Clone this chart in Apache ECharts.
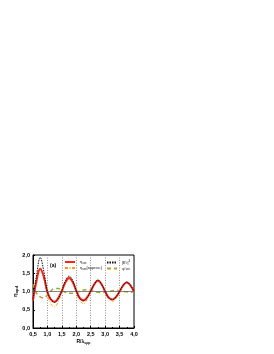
<!DOCTYPE html>
<html>
<head>
<meta charset="utf-8">
<script src="https://cdn.jsdelivr.net/npm/echarts@6/dist/echarts.min.js"></script>
<style>html,body{margin:0;padding:0;background:#fff}#c{width:274px;height:354px}</style>
</head>
<body>
<div id="c"></div>
<script>
var xs = [0.5,0.625,0.75,0.875,1.0,1.125,1.25,1.375,1.5,1.625,1.75,1.875,2.0,2.125,2.25,2.375,2.5,2.625,2.75,2.875,3.0,3.125,3.25,3.375,3.5,3.625,3.75,3.875,4.0];
var etaSm = [0.75,1.3,1.62,1.4,0.98,0.78,0.72,0.82,1.02,1.25,1.37,1.26,1.02,0.82,0.76,0.84,1.01,1.2,1.3,1.2,1.0,0.83,0.78,0.85,1.0,1.17,1.25,1.17,1.0];
var etaApprox = [0.9,1.35,1.6,1.35,0.92,0.65,0.58,0.72,0.98,1.22,1.35,1.22,0.97,0.74,0.67,0.78,0.99,1.18,1.28,1.18,0.98,0.79,0.73,0.82,0.99,1.16,1.24,1.16,0.99];
var eField = [0.8,1.45,1.93,1.55,1.0,0.78,0.7,0.8,1.02,1.3,1.42,1.3,1.02,0.8,0.74,0.83,1.01,1.2,1.31,1.2,1.0,0.83,0.77,0.85,1.0,1.17,1.26,1.17,1.0];
var phiSm = [1.2,0.95,0.85,0.82,0.9,1.02,1.08,1.08,1.03,0.98,0.95,0.95,0.97,1.01,1.04,1.05,1.03,1.0,0.98,0.97,0.98,1.0,1.02,1.03,1.02,1.0,0.99,0.98,0.99];
var yTicks = ['0,0','0,5','1,0','1,5','2,0'];
var xTicks = ['0,5','1,0','1,5','2,0','2,5','3,0','3,5','4,0'];

function zip(a){ return xs.map(function(x,i){ return [x,a[i]]; }); }
var names = {
  'eta_sm': '{m|η}{s|sm}',
  'eta_ap': '{m|η}{s|sm}{m|(approx.)}',
  'E': "{m||E'}{s|r}{m||}{p|2}",
  'phi': "{m|φ'}{s|sm}"
};
var rich = {
  m:{fontSize:3.6,fontWeight:'bold',fontFamily:'Arial'},
  s:{fontSize:3,fontWeight:'bold',fontFamily:'Arial',padding:[2,0,0,0]},
  p:{fontSize:3,fontWeight:'bold',fontFamily:'Arial',padding:[0,0,2,0]}
};
var chart = echarts.init(document.getElementById('c'));
chart.setOption({
  animation:false,
  grid:{left:33,right:140,top:255,bottom:26,show:true,borderColor:'#000',borderWidth:1,backgroundColor:'transparent'},
  legend:[
    {data:['eta_sm','eta_ap'],orient:'vertical',left:64,top:260,itemWidth:10,itemHeight:5,itemGap:1.5,padding:0,
     itemStyle:{opacity:0},
     formatter:function(n){return names[n];},textStyle:{rich:rich,fontSize:3.6}},
    {data:['E','phi'],orient:'vertical',left:106,top:260,itemWidth:10,itemHeight:5,itemGap:1.5,padding:0,
     itemStyle:{opacity:0},
     formatter:function(n){return names[n];},textStyle:{rich:rich,fontSize:3.6}}
  ],
  graphic:[{type:'text',left:50,top:263,style:{text:'(a)',font:'bold 5px Arial',fill:'#000'}}],
  xAxis:{type:'value',min:0.5,max:4.0,interval:0.5,
    name:'{m|R/λ}{s|spp}',nameLocation:'middle',nameGap:10,
    nameTextStyle:{rich:{m:{fontSize:5,fontWeight:'bold',fontFamily:'Arial'},s:{fontSize:3.5,fontWeight:'bold',fontFamily:'Arial',padding:[3,0,0,0]}}},
    axisLine:{lineStyle:{color:'#000',width:1}},
    axisTick:{inside:true,length:2,lineStyle:{color:'#000'}},
    minorTick:{show:true,splitNumber:2,length:1,lineStyle:{color:'#000'}},
    axisLabel:{fontSize:5.5,fontWeight:'bold',fontFamily:'Arial',color:'#000',margin:3,
      formatter:function(v){var i=Math.round((v-0.5)/0.5);return xTicks[i];}},
    splitLine:{show:true,lineStyle:{color:'#777',type:[1,1.5],width:0.8}}},
  yAxis:{type:'value',min:0,max:2,interval:0.5,
    name:'{m|η}{s|opd}',nameLocation:'middle',nameGap:14,nameRotate:90,
    nameTextStyle:{rich:{m:{fontSize:6,fontWeight:'bold',fontFamily:'Arial'},s:{fontSize:4,fontWeight:'bold',fontFamily:'Arial',padding:[3,0,0,0]}}},
    axisLine:{lineStyle:{color:'#000',width:1}},
    axisTick:{inside:true,length:2,lineStyle:{color:'#000'}},
    minorTick:{show:true,splitNumber:2,length:1,lineStyle:{color:'#000'}},
    axisLabel:{fontSize:5.5,fontWeight:'bold',fontFamily:'Arial',color:'#000',margin:3,
      formatter:function(v){return yTicks[Math.round(v/0.5)];}},
    splitLine:{show:false}},
  series:[
    {name:'phi',type:'line',data:zip(phiSm),smooth:0.4,symbol:'none',z:2,
     lineStyle:{color:'#a5a534',width:1.5,type:[4,3]},itemStyle:{color:'#a5a534'},
     markLine:{silent:true,symbol:'none',label:{show:false},lineStyle:{color:'#666',type:'solid',width:0.8},data:[{yAxis:1}]}},
    {name:'eta_ap',type:'line',data:zip(etaApprox),smooth:0.4,symbol:'none',z:3,
     lineStyle:{color:'#ff9a1a',width:1,type:[3,1.5,1,1.5]},itemStyle:{color:'#ff9a1a'}},
    {name:'eta_sm',type:'line',data:zip(etaSm),smooth:0.4,symbol:'none',z:4,
     lineStyle:{color:'#ff2418',width:2},itemStyle:{color:'#ff2418'}},
    {name:'E',type:'line',data:zip(eField),smooth:0.4,symbol:'none',z:5,
     lineStyle:{color:'#111',width:1,type:[1.5,1]},itemStyle:{color:'#111'}}
  ]
});
</script>
</body>
</html>
